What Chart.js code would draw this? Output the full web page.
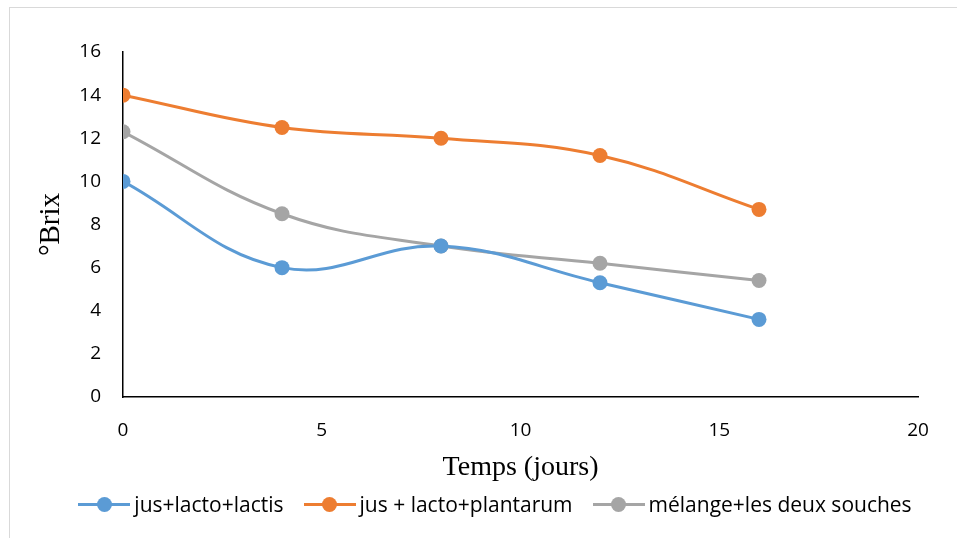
<!DOCTYPE html>
<html>
<head>
<meta charset="utf-8">
<script src="https://cdn.jsdelivr.net/npm/chart.js@4/dist/chart.umd.min.js"></script>
<style>
  html, body { margin: 0; padding: 0; background: #fff; overflow: hidden; }
  #wrap { position: relative; width: 957px; height: 538px; }
  #frame { position: absolute; left: 9px; top: 7px; width: 960px; height: 545px; border: 1px solid #d9d9d9; box-sizing: border-box; pointer-events: none; }
  canvas { position: absolute; left: 0; top: 0; }
  #legend { position: absolute; left: 0; top: 490px; width: 957px; height: 28px; display: flex; justify-content: center; align-items: center; font-family: "Open Sans", sans-serif; font-size: 21px; color: #000; padding-left: 33px; box-sizing: border-box; }
  .item { display: flex; align-items: center; margin: 0 10px; white-space: nowrap; }
  .mk { position: relative; width: 52px; height: 16px; margin-right: 4px; }
  .mk .ln { position: absolute; left: 0; right: 0; top: 6.5px; height: 3px; }
  .mk .dt { position: absolute; left: 18.5px; top: 0.5px; width: 15px; height: 15px; border-radius: 50%; }
</style>
</head>
<body>
<div id="wrap">
  <canvas id="c" width="957" height="538"></canvas>
  <div id="frame"></div>
  <div id="legend"></div>
</div>
<script>
const days = [0, 4, 8, 12, 16];
const seriesNames = ["jus+lacto+lactis", "jus + lacto+plantarum", "mélange+les deux souches"];
const lactis = [10, 6, 7, 5.3, 3.6];
const plantarum = [14, 12.5, 12, 11.2, 8.7];
const melange = [12.3, 8.5, 7, 6.2, 5.4];
const colors = ["#5B9BD5", "#ED7D31", "#A5A5A5"];
const xTitle = "Temps (jours)";
const yTitle = "°Brix";

const allValues = [lactis, plantarum, melange];
const datasets = allValues.map((vals, i) => ({
  label: seriesNames[i],
  data: days.map((d, j) => ({ x: d, y: vals[j] })),
  borderColor: colors[i],
  backgroundColor: colors[i],
  borderWidth: 3,
  pointRadius: 7.5,
  pointHoverRadius: 7.5,
  pointBorderWidth: 0,
  tension: 0.4,
  fill: false
}));

new Chart(document.getElementById("c"), {
  type: "line",
  data: { datasets },
  options: {
    responsive: false,
    animation: false,
    events: [],
    layout: { padding: { top: 52, left: 0, right: 0, bottom: 54 } },
    plugins: { legend: { display: false }, tooltip: { enabled: false } },
    scales: {
      x: {
        type: "linear", min: 0, max: 20,
        ticks: { stepSize: 5, padding: 14, color: "#000", font: { family: "Open Sans", size: 19 } },
        grid: { display: false },
        border: { display: true, color: "#000", width: 1.5 },
        title: { display: true, text: xTitle, color: "#000", padding: { top: 0, bottom: 0 }, font: { family: "Liberation Serif", size: 28, lineHeight: 1.2 } },
        afterFit: (s) => { s.height = 87; }
      },
      y: {
        min: 0, max: 16,
        ticks: { stepSize: 2, padding: 14, color: "#000", font: { family: "Open Sans", size: 19 } },
        grid: { display: false },
        border: { display: true, color: "#000", width: 1.5 },
        title: { display: true, text: yTitle, color: "#000", padding: { top: 34, bottom: 0 }, font: { family: "Liberation Serif", size: 29, lineHeight: 1.2 } },
        afterFit: (s) => { s.width = 123; }
      },
      yR: {
        position: "right", display: true,
        ticks: { display: false }, grid: { display: false }, border: { display: false },
        afterFit: (s) => { s.width = 39; }
      }
    }
  }
});

const leg = document.getElementById("legend");
seriesNames.forEach((n, i) => {
  const it = document.createElement("div");
  it.className = "item";
  it.innerHTML = '<div class="mk"><div class="ln" style="background:' + colors[i] + '"></div><div class="dt" style="background:' + colors[i] + '"></div></div><span></span>';
  it.querySelector("span").textContent = n;
  leg.appendChild(it);
});
</script>
</body>
</html>
